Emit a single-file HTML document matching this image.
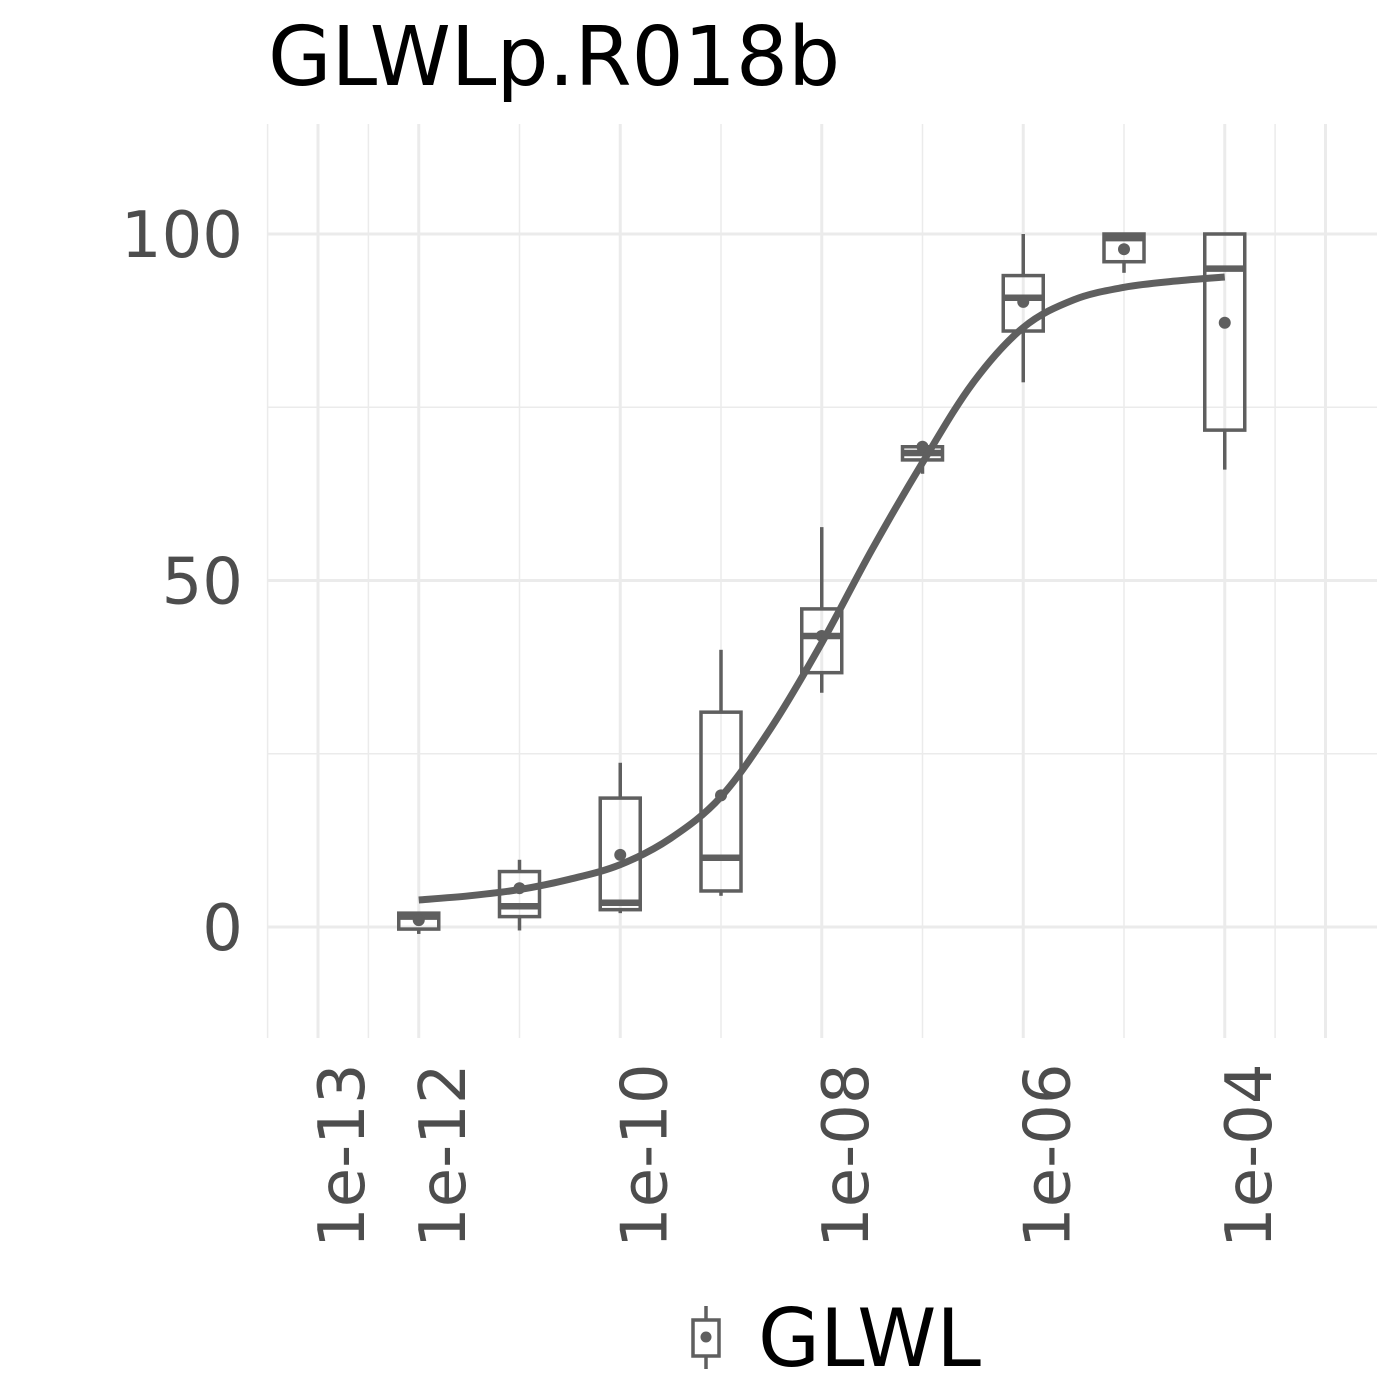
<!DOCTYPE html>
<html><head><meta charset="utf-8"><style>
body{margin:0;background:#fff}
svg{display:block;font-family:"DejaVu Sans","Liberation Sans",sans-serif}
</style></head><body>
<svg id="chart" width="1400" height="1400" viewBox="0 0 1400 1400">
<rect width="1400" height="1400" fill="#fff"/>
<text x="268" y="85" font-size="82" fill="#000">GLWLp.R018b</text>
<g id="grid"></g>
<g id="boxes"></g>
<g id="curve"></g>
<g id="axes"></g>
<g>
  <g stroke="#5f5f5f" stroke-width="3.5" fill="none">
    <line x1="706" y1="1306" x2="706" y2="1320"/><line x1="706" y1="1356" x2="706" y2="1369"/>
    <rect x="693" y="1320" width="26" height="36"/>
    <circle cx="706" cy="1337" r="5.5" fill="#5f5f5f" stroke="none"/>
  </g>
  <text x="758" y="1366" font-size="80" fill="#000">GLWL</text>
</g>
</svg>
<script>
const doseLog=[-12,-11,-10,-9,-8,-7,-6,-5,-4];
const q1=[-0.3,1.5,2.5,5.2,36.7,67.4,86,96,71.7];
const med=[1.5,3,3.5,10,42,68.4,90.8,99.4,95];
const q3=[2,8,18.6,31,45.9,69.3,94,100,100];
const wLo=[-1,-0.5,2,4.5,33.8,65.4,78.6,94.4,66];
const wHi=[2,9.7,23.7,40,57.7,70,100,100,100];
const means=[1,5.6,10.4,19,42,69.3,90.2,97.8,87.2];
const curveX=[-12,-11.5,-11,-10.5,-10,-9.5,-9,-8.5,-8,-7.5,-7,-6.5,-6,-5.5,-5,-4.5,-4];
const curveY=[3.9,4.5,5.4,6.9,9.0,12.8,18.8,28.8,41.0,54.5,67.0,78.5,86.5,90.5,92.3,93.2,93.8];
const xMajor=[-13,-12,-10,-8,-6,-4];
const xMajorLabels=["1e-13","1e-12","1e-10","1e-08","1e-06","1e-04"];
const xGridOnly=[-3];
const xMinor=[-13.5,-12.5,-11,-9,-7,-5,-3.5];
const yMajor=[0,50,100];
const yMinor=[25,75];

const NS="http://www.w3.org/2000/svg";
const X0=268,X1=1377,Y0=124,Y1=1038;
const sx=v=>318+(v+13)*100.75;
const sy=v=>927-v*6.93;
function mk(tag,attrs,parent){const e=document.createElementNS(NS,tag);for(const k in attrs)e.setAttribute(k,attrs[k]);parent.appendChild(e);return e;}
const grid=document.getElementById('grid'),boxes=document.getElementById('boxes'),curve=document.getElementById('curve'),axes=document.getElementById('axes');
xMinor.forEach(v=>{const l=mk('line',{x1:sx(v),x2:sx(v),y1:Y0,y2:Y1,stroke:'#ebebeb','stroke-width':1.5},grid);

});
yMinor.forEach(v=>{const l=mk('line',{x1:X0,x2:X1,y1:sy(v),y2:sy(v),stroke:'#ebebeb','stroke-width':1.5},grid);

});
xMajor.concat(xGridOnly).forEach(v=>{const l=mk('line',{x1:sx(v),x2:sx(v),y1:Y0,y2:Y1,stroke:'#ebebeb','stroke-width':3},grid);

});
yMajor.forEach(v=>{const l=mk('line',{x1:X0,x2:X1,y1:sy(v),y2:sy(v),stroke:'#ebebeb','stroke-width':3},grid);

});
yMajor.forEach(v=>{const t=mk('text',{x:243,y:sy(v)+23,'text-anchor':'end','font-size':64,fill:'#4d4d4d'},axes);t.textContent=String(v);

});
xMajor.forEach((v,i)=>{const x=sx(v)+46;const t=mk('text',{x:x,y:1248,'text-anchor':'start','font-size':64,fill:'#4d4d4d',transform:`rotate(-90 ${x} 1248)`},axes);t.textContent=xMajorLabels[i];

});
const C='#5f5f5f',hw=20;
doseLog.forEach((d,i)=>{const g=mk('g',{stroke:C,'stroke-width':3.5,fill:'none'},boxes);


const x=sx(d);
mk('line',{x1:x,x2:x,y1:sy(q3[i]),y2:sy(wHi[i])},g);
mk('line',{x1:x,x2:x,y1:sy(q1[i]),y2:sy(wLo[i])},g);
mk('rect',{x:x-hw,y:sy(q3[i]),width:2*hw,height:sy(q1[i])-sy(q3[i])},g);
mk('line',{x1:x-hw,x2:x+hw,y1:sy(med[i]),y2:sy(med[i]),'stroke-width':6.5},g);
mk('circle',{cx:x,cy:sy(means[i]),r:6,fill:C,stroke:'none'},g);});
const P=curveX.map((v,i)=>[sx(v),sy(curveY[i])]);
let d=`M${P[0][0]},${P[0][1]}`;
for(let i=0;i<P.length-1;i++){const p0=P[Math.max(0,i-1)],p1=P[i],p2=P[i+1],p3=P[Math.min(P.length-1,i+2)];
d+=` C${p1[0]+(p2[0]-p0[0])/6},${p1[1]+(p2[1]-p0[1])/6} ${p2[0]-(p3[0]-p1[0])/6},${p2[1]-(p3[1]-p1[1])/6} ${p2[0]},${p2[1]}`;}
const path=mk('path',{d:d,fill:'none',stroke:C,'stroke-width':7,'stroke-linecap':'butt'},curve);


</script>
</body></html>
